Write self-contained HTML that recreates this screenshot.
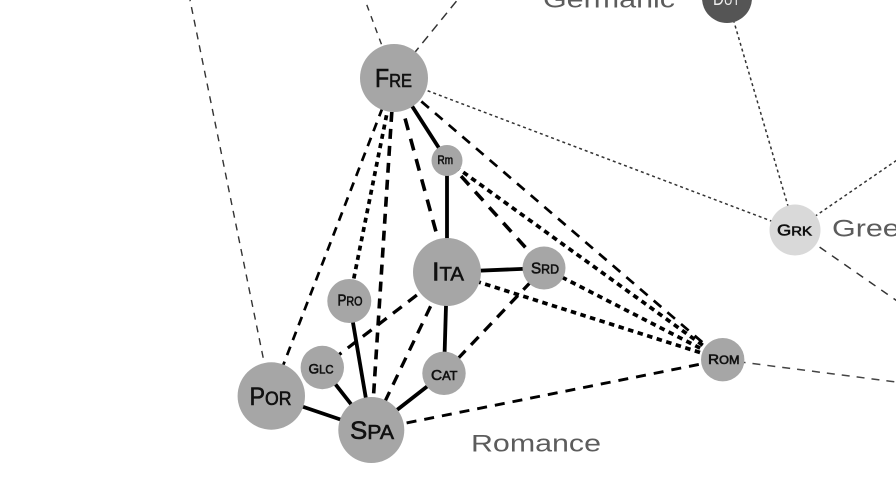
<!DOCTYPE html>
<html><head><meta charset="utf-8">
<style>
html,body{margin:0;padding:0;background:#fff;}
svg{display:block;}
.lbl{font-family:"Liberation Sans",sans-serif;fill:#111;stroke:#111;stroke-width:0.6;}
.cat{font-family:"Liberation Sans",sans-serif;fill:#5c5c5c;font-size:24px;}
</style></head>
<body>
<svg width="896" height="504" viewBox="0 0 896 504" xmlns="http://www.w3.org/2000/svg">
<rect width="896" height="504" fill="#fff"/>
<g fill="none" stroke-linecap="butt">
  <!-- thin lines -->
  <line x1="394" y1="78" x2="362" y2="-8" stroke="#333" stroke-width="1.4" stroke-dasharray="6 6"/>
  <line x1="394" y1="78" x2="459" y2="-2" stroke="#333" stroke-width="1.5" stroke-dasharray="9 6"/>
  <line x1="271" y1="396" x2="190" y2="0" stroke="#333" stroke-width="1.4" stroke-dasharray="7 6"/>
  <line x1="394" y1="78" x2="795" y2="230" stroke="#333" stroke-width="1.5" stroke-dasharray="3 3"/>
  <line x1="795" y1="230" x2="727" y2="-2" stroke="#333" stroke-width="1.5" stroke-dasharray="3 3"/>
  <line x1="795" y1="230" x2="900" y2="158" stroke="#333" stroke-width="1.5" stroke-dasharray="3 3"/>
  <line x1="795" y1="230" x2="900" y2="303" stroke="#333" stroke-width="1.5" stroke-dasharray="8 7"/>
  <line x1="722.7" y1="359.7" x2="900" y2="382.5" stroke="#444" stroke-width="1.5" stroke-dasharray="8 7"/>

  <!-- medium dashed -->
  <line x1="394" y1="78" x2="271.3" y2="396" stroke="#000" stroke-width="2.7" stroke-dasharray="9 7"/>
  <line x1="394" y1="78" x2="722.7" y2="359.7" stroke="#000" stroke-width="2.7" stroke-dasharray="10 8"/>
  <line x1="371.3" y1="430" x2="722.7" y2="359.7" stroke="#000" stroke-width="2.9" stroke-dasharray="10 8"/>

  <!-- thick long dashed -->
  <line x1="394" y1="78" x2="447" y2="272" stroke="#000" stroke-width="3.6" stroke-dasharray="12 9"/>
  <line x1="394" y1="78" x2="371.3" y2="430" stroke="#000" stroke-width="3.6" stroke-dasharray="10 7"/>
  <line x1="447" y1="160.5" x2="544" y2="268" stroke="#000" stroke-width="3.6" stroke-dasharray="12 9"/>
  <line x1="447" y1="272" x2="322.3" y2="367.5" stroke="#000" stroke-width="3.3" stroke-dasharray="11 8"/>
  <line x1="447" y1="272" x2="371.3" y2="430" stroke="#000" stroke-width="3.3" stroke-dasharray="11 8"/>
  <line x1="544" y1="268" x2="444" y2="373.3" stroke="#000" stroke-width="3.3" stroke-dasharray="11 8"/>

  <!-- thick dotted -->
  <line x1="394" y1="78" x2="349.3" y2="301" stroke="#000" stroke-width="3.7" stroke-dasharray="5 4.5"/>
  <line x1="447" y1="160.5" x2="722.7" y2="359.7" stroke="#000" stroke-width="3.7" stroke-dasharray="5.5 4.5"/>
  <line x1="447" y1="272" x2="722.7" y2="359.7" stroke="#000" stroke-width="3.7" stroke-dasharray="5.5 4.5"/>
  <line x1="544" y1="268" x2="722.7" y2="359.7" stroke="#000" stroke-width="3.7" stroke-dasharray="5.5 4.5"/>

  <!-- solid -->
  <line x1="394" y1="78" x2="447" y2="160.5" stroke="#000" stroke-width="3.8"/>
  <line x1="447" y1="160.5" x2="447" y2="272" stroke="#000" stroke-width="3.8"/>
  <line x1="447" y1="272" x2="544" y2="268" stroke="#000" stroke-width="3.8"/>
  <line x1="447" y1="272" x2="444" y2="373.3" stroke="#000" stroke-width="3.8"/>
  <line x1="371.3" y1="430" x2="271.3" y2="396" stroke="#000" stroke-width="3.8"/>
  <line x1="371.3" y1="430" x2="322.3" y2="367.5" stroke="#000" stroke-width="3.8"/>
  <line x1="371.3" y1="430" x2="349.3" y2="301" stroke="#000" stroke-width="3.8"/>
  <line x1="371.3" y1="430" x2="444" y2="373.3" stroke="#000" stroke-width="3.8"/>
</g>

<!-- nodes -->
<g fill="#a6a6a6">
  <circle cx="394" cy="78" r="34"/>
  <circle cx="447" cy="160.5" r="15.5"/>
  <circle cx="447" cy="272" r="34"/>
  <circle cx="544" cy="268" r="21.5"/>
  <circle cx="349.3" cy="301" r="22"/>
  <circle cx="322.3" cy="367.5" r="21.7"/>
  <circle cx="271.3" cy="396" r="33.7"/>
  <circle cx="371.3" cy="430" r="33"/>
  <circle cx="444" cy="373.3" r="21.7"/>
  <circle cx="722.7" cy="359.7" r="21.7"/>
</g>
<circle cx="795" cy="230" r="25.5" fill="#d9d9d9"/>
<circle cx="727" cy="-2" r="25" fill="#555"/>

<!-- node labels -->
<text class="lbl" x="375" y="87" textLength="37" lengthAdjust="spacingAndGlyphs"><tspan font-size="26">F</tspan><tspan font-size="18.5">RE</tspan></text>
<text class="lbl" x="432" y="280.7" textLength="32" lengthAdjust="spacingAndGlyphs"><tspan font-size="26">I</tspan><tspan font-size="19.5">TA</tspan></text>
<text class="lbl" x="249.5" y="405" textLength="42" lengthAdjust="spacingAndGlyphs"><tspan font-size="25">P</tspan><tspan font-size="19">OR</tspan></text>
<text class="lbl" x="350" y="439" textLength="44" lengthAdjust="spacingAndGlyphs"><tspan font-size="25">S</tspan><tspan font-size="20.5">PA</tspan></text>
<text class="lbl" x="337.5" y="305.7" textLength="25" lengthAdjust="spacingAndGlyphs"><tspan font-size="15.5">P</tspan><tspan font-size="12.5">RO</tspan></text>
<text class="lbl" x="308.5" y="373.5" textLength="25" lengthAdjust="spacingAndGlyphs"><tspan font-size="14">G</tspan><tspan font-size="11.5">LC</tspan></text>
<text class="lbl" x="431" y="380" textLength="26.5" lengthAdjust="spacingAndGlyphs"><tspan font-size="15">C</tspan><tspan font-size="12.5">AT</tspan></text>
<text class="lbl" x="531" y="273.3" textLength="28" lengthAdjust="spacingAndGlyphs"><tspan font-size="16">S</tspan><tspan font-size="13">RD</tspan></text>
<text class="lbl" x="437.5" y="164" textLength="15.5" lengthAdjust="spacingAndGlyphs" font-size="11.5">Rm</text>
<text class="lbl" x="708" y="364" textLength="31.5" lengthAdjust="spacingAndGlyphs"><tspan font-size="14">R</tspan><tspan font-size="11.5">OM</tspan></text>
<text class="lbl" x="777" y="235.7" textLength="35" lengthAdjust="spacingAndGlyphs"><tspan font-size="16">G</tspan><tspan font-size="13">RK</tspan></text>
<text x="713" y="5" textLength="27" lengthAdjust="spacingAndGlyphs" font-family="Liberation Sans, sans-serif" fill="#eee"><tspan font-size="20">D</tspan><tspan font-size="16">UT</tspan></text>

<!-- category labels -->
<text class="cat" x="543" y="7.5" textLength="132" lengthAdjust="spacingAndGlyphs">Germanic</text>
<text class="cat" x="832" y="236.7" textLength="83" lengthAdjust="spacingAndGlyphs">Greek</text>
<text class="cat" x="471" y="451.7" textLength="130" lengthAdjust="spacingAndGlyphs">Romance</text>
</svg>
</body></html>
